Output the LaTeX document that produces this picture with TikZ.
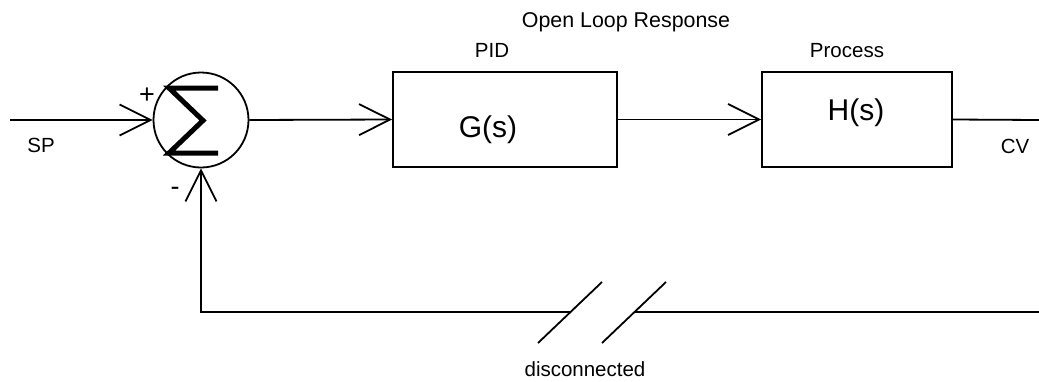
\documentclass[tikz,border=0pt]{standalone}
\usepackage{fontspec}
\setmainfont{Liberation Sans}
\usetikzlibrary{arrows.meta}
\begin{document}
\begin{tikzpicture}[x=1pt,y=-1pt,
  wire/.style={line width=1.8pt},
  barb/.style={-{Straight Barb[length=31pt,width=31pt,line width=1.8pt]}},
  block/.style={draw,line width=1.8pt,minimum height=95pt,inner sep=0pt},
  lbl/.style={font=\fontsize{20.5}{24}\selectfont,inner sep=0pt,anchor=base},
  big/.style={font=\fontsize{30}{36}\selectfont,inner sep=0pt,anchor=base},
  sign/.style={font=\fontsize{27}{32}\selectfont,inner sep=0pt}]
\useasboundingbox (0,0) rectangle (1039,381);

% summing junction and the two blocks
\node[draw,circle,line width=1.8pt,minimum size=95pt,inner sep=0pt] (sum) at (201,120) {};
\node[block,minimum width=224pt] (G) at (505,119.5) {};
\node[block,minimum width=190pt] (H) at (857,119.5) {};

% sigma symbol inside the junction
\draw[line width=5pt,line join=miter,miter limit=10]
  (218,88) -- (169,88) -- (203,120.5) -- (169,153) -- (218,153);

% signal path
\coordinate (in) at (10,120);
\coordinate (out) at (1039,120);
\draw[wire,barb] (in) -- (sum.west);
\draw[wire,barb] (sum.east) -- (G.west);
\draw[wire,barb] (G.east) -- (H.west);
\draw[wire] (H.east) -- (out);

% broken feedback path
\coordinate (fbR) at (1039,312);
\coordinate (brk1) at (570,312);
\coordinate (brk2) at (634,312);
\coordinate (corner) at (sum.south |- brk1);
\draw[wire] (fbR) -- (brk2);
\draw[wire,barb] (brk1) -- (corner) -- (sum.south);
\coordinate (s1a) at (538,343);
\coordinate (s1b) at (602,282);
\coordinate (s2a) at (602,343);
\coordinate (s2b) at (666,282);
\draw[wire] (s1a) -- (s1b);
\draw[wire] (s2a) -- (s2b);

% labels
\node[lbl,font=\fontsize{21.4}{25}\selectfont] (title) at (626,27) {Open Loop Response};
\node[lbl] (pid) at (492,57) {PID};
\node[lbl] (proc) at (847,57) {Process};
\node[big] (gs) at (488,137) {G(s)};
\node[big] (hs) at (856,120) {H(s)};
\node[lbl] (sp) at (41,152) {SP};
\node[lbl] (cv) at (1015,153) {CV};
\node[lbl] (disc) at (585,376) {disconnected};
\node[sign] (plus) at (147,96) {+};
\node[sign] (minus) at (175,191) {-};
\end{tikzpicture}
\end{document}
